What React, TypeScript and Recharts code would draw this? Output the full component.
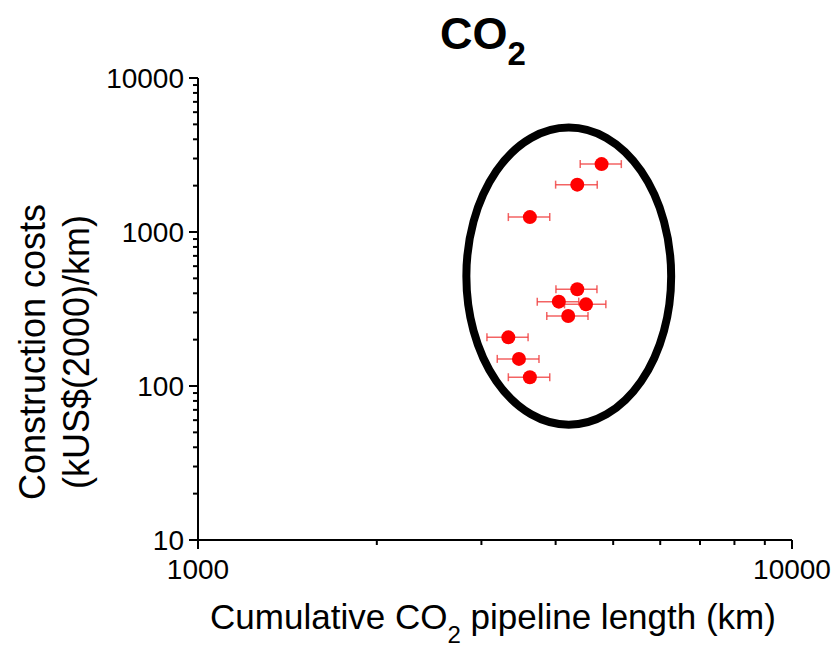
import { ScatterChart, Scatter, XAxis, YAxis, ErrorBar, ReferenceArea } from "recharts";

// points (log-log)
const pipelineLength = [4780, 4350, 3620, 4350, 4050, 4500, 4200, 3330, 3470, 3620];
const constructionCost = [2760, 2030, 1250, 425, 353, 339, 285, 207, 150, 114];
const lengthError = [380, 350, 290, 345, 325, 360, 335, 265, 280, 290];

const xTicks = [1000, 2000, 3000, 4000, 5000, 6000, 7000, 8000, 9000, 10000];
const yTicks = [
  10, 20, 30, 40, 50, 60, 70, 80, 90,
  100, 200, 300, 400, 500, 600, 700, 800, 900,
  1000, 2000, 3000, 4000, 5000, 6000, 7000, 8000, 9000,
  10000,
];
const xMajor = [1000, 10000];
const yMajor = [10, 100, 1000, 10000];

// ellipse drawn around the cluster
const ellipseX = [2830, 6260];
const ellipseY = [56, 4770];

const data = pipelineLength.map((x, i) => ({
  x,
  y: constructionCost[i],
  err: lengthError[i],
}));

const FONT = "Arial, 'Liberation Sans', sans-serif";

function BottomTick(props: any) {
  const { x, y, payload } = props;
  const major = xMajor.includes(payload.value);
  return (
    <g>
      <line x1={x} y1={y} x2={x} y2={y + (major ? 9 : 5)} stroke="#000" strokeWidth={2} />
      {major && (
        <text x={x} y={y + 39} textAnchor="middle" fontSize={28} fontFamily={FONT} fill="#000">
          {payload.value}
        </text>
      )}
    </g>
  );
}

function TopTick(props: any) {
  const { x, y, payload } = props;
  const major = xMajor.includes(payload.value);
  return <line x1={x} y1={y} x2={x} y2={y + (major ? 9 : 5)} stroke="#000" strokeWidth={2} />;
}

function LeftTick(props: any) {
  const { x, y, payload } = props;
  const major = yMajor.includes(payload.value);
  return (
    <g>
      <line x1={x - (major ? 9 : 5)} y1={y} x2={x} y2={y} stroke="#000" strokeWidth={2} />
      {major && (
        <text x={x - 14} y={y + 10} textAnchor="end" fontSize={28} fontFamily={FONT} fill="#000">
          {payload.value}
        </text>
      )}
    </g>
  );
}

function RightTick(props: any) {
  const { x, y, payload } = props;
  const major = yMajor.includes(payload.value);
  return <line x1={x - (major ? 9 : 5)} y1={y} x2={x} y2={y} stroke="#000" strokeWidth={2} />;
}

function Dot(props: any) {
  const { cx, cy } = props;
  return <circle cx={cx} cy={cy} r={7} fill="#ff0000" />;
}

function Ellipse(props: any) {
  const { x, y, width, height } = props;
  return (
    <ellipse
      cx={x + width / 2}
      cy={y + height / 2}
      rx={width / 2}
      ry={height / 2}
      fill="none"
      stroke="#000"
      strokeWidth={8}
    />
  );
}

const axisLine = { stroke: "#000", strokeWidth: 2 };

export default function App() {
  return (
    <div style={{ position: "absolute", left: 0, top: 0, width: 832, height: 648, background: "#fff" }}>
      <ScatterChart width={832} height={648} margin={{ top: 78, right: 40, bottom: 48, left: 118 }}>
        <XAxis
          dataKey="x"
          type="number"
          scale="log"
          domain={[1000, 10000]}
          ticks={xTicks}
          interval={0}
          allowDataOverflow
          height={60}
          axisLine={axisLine}
          tickLine={false}
          tickSize={0}
          tickMargin={0}
          tick={<BottomTick />}
        />
        <XAxis
          xAxisId="top"
          orientation="top"
          type="number"
          scale="log"
          domain={[1000, 10000]}
          ticks={xTicks}
          interval={0}
          allowDataOverflow
          height={0}
          axisLine={axisLine}
          tickLine={false}
          tickSize={0}
          tickMargin={0}
          tick={<TopTick />}
        />
        <YAxis
          dataKey="y"
          type="number"
          scale="log"
          domain={[10, 10000]}
          ticks={yTicks}
          interval={0}
          allowDataOverflow
          width={80}
          axisLine={axisLine}
          tickLine={false}
          tickSize={0}
          tickMargin={0}
          tick={<LeftTick />}
        />
        <YAxis
          yAxisId="right"
          orientation="right"
          type="number"
          scale="log"
          domain={[10, 10000]}
          ticks={yTicks}
          interval={0}
          allowDataOverflow
          width={0}
          axisLine={axisLine}
          tickLine={false}
          tickSize={0}
          tickMargin={0}
          tick={<RightTick />}
        />
        <ReferenceArea
          x1={ellipseX[0]}
          x2={ellipseX[1]}
          y1={ellipseY[0]}
          y2={ellipseY[1]}
          shape={<Ellipse />}
        />
        <Scatter data={data} shape={<Dot />} isAnimationActive={false}>
          <ErrorBar
            dataKey="err"
            direction="x"
            width={4}
            stroke="#f03c3c"
            strokeOpacity={0.8}
            strokeWidth={1.5}
          />
        </Scatter>
      </ScatterChart>
      <svg
        width={832}
        height={648}
        style={{ position: "absolute", left: 0, top: 0, pointerEvents: "none" }}
        fontFamily={FONT}
      >
        <text x={483} y={49} textAnchor="middle" fontSize={45} fontWeight="bold" fill="#000">
          CO
          <tspan fontSize={33} dy={16}>2</tspan>
        </text>
        <text x={493} y={629} textAnchor="middle" fontSize={35} fill="#000">
          Cumulative CO
          <tspan fontSize={24} dy={14}>2</tspan>
          <tspan dy={-14}> pipeline length (km)</tspan>
        </text>
        <text transform="rotate(-90)" x={-352} y={45} textAnchor="middle" fontSize={36} fill="#000">
          Construction costs
        </text>
        <text transform="rotate(-90)" x={-352} y={89} textAnchor="middle" fontSize={36} fill="#000">
          (kUS$(2000)/km)
        </text>
      </svg>
    </div>
  );
}
